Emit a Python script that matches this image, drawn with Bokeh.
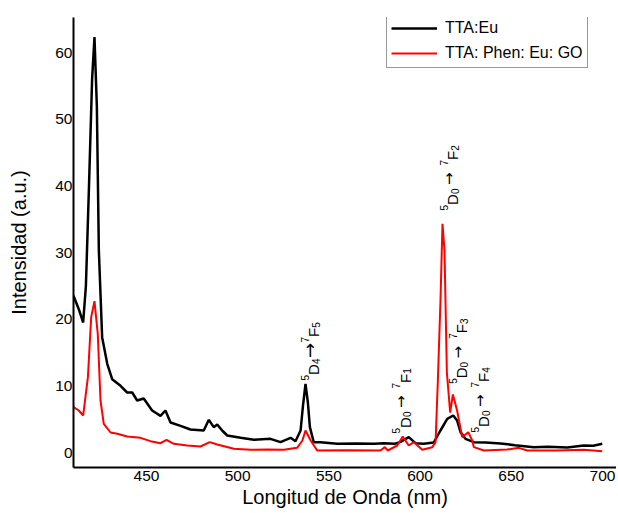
import numpy as np
from bokeh.plotting import figure
from bokeh.models import FixedTicker, Range1d, ColumnDataSource
from bokeh.core.properties import value
from bokeh.embed import file_html
from bokeh.resources import INLINE

# --- data ---
wl_black = [410, 412.9, 415.3, 416.8, 418.5, 420.2, 421.5, 422.8, 423.9, 425.7, 428.5, 431.2, 435.8,
            439.4, 442.2, 444.9, 448.5, 453.1, 457.7, 460.4, 463.2, 468.7, 474.1, 481.4, 484.2,
            486.9, 488.8, 491.5, 494.3, 501.6, 508.9, 518.0, 523.5, 529.0, 531.7, 534.5, 535.8,
            537.2, 538.5, 539.6, 541.7, 545.4, 554.6, 565.0, 575.0, 580.1, 586.0, 589.3, 593.8,
            597.5, 602.0, 607.5, 611.2, 614.9, 618.2, 620.3, 622.2, 624.9, 629.5, 636.0, 644.1,
            652.0, 662.4, 670.0, 680.7, 689.8, 695.0, 699.9]
int_black = [23.5, 21.5, 19.5, 25.0, 40.0, 56.0, 62.3, 52.0, 30.3, 17.3, 13.3, 11.0, 10.0,
             9.0, 9.0, 7.8, 8.1, 6.3, 5.5, 6.3, 4.5, 4.0, 3.45, 3.3, 4.9,
             3.8, 4.2, 3.3, 2.55, 2.2, 1.9, 2.05, 1.55, 2.2, 1.7, 3.3, 7.0,
             10.3, 7.5, 3.8, 1.55, 1.55, 1.3, 1.35, 1.3, 1.4, 1.3, 1.6, 2.3,
             1.4, 1.3, 1.5, 3.3, 5.05, 5.55, 4.8, 3.05, 2.05, 1.55, 1.5, 1.35,
             1.1, 0.8, 0.85, 0.75, 1.05, 1.0, 1.3]

wl_red = [410, 412.9, 415.3, 417.9, 419.7, 421.5, 423.3, 424.8, 426.6, 430.3, 434.0, 439.4,
          446.7, 452.2, 457.7, 461.0, 465.0, 472.3, 479.6, 484.7, 488.8, 497.9, 507.0, 516.2,
          525.3, 532.6, 535.5, 537.2, 540.0, 543.6, 560.0, 578.3, 580.7, 582.3, 587.5, 590.5,
          593.8, 596.6, 601.2, 606.7, 608.5, 609.7, 611.2, 612.3, 613.4, 614.7, 616.5, 618.0,
          620.3, 623.1, 626.4, 628.6, 629.5, 635.0, 647.8, 654.2, 658.7, 675.0, 689.8, 699.9]
int_red = [6.8, 6.3, 5.55, 11.3, 20.3, 22.7, 17.8, 7.8, 4.3, 3.0, 2.8, 2.4,
           2.2, 1.7, 1.4, 1.9, 1.3, 1.05, 0.9, 1.55, 1.2, 0.55, 0.4, 0.45,
           0.4, 0.7, 1.8, 3.3, 1.8, 0.3, 0.35, 0.3, 0.8, 0.3, 1.05, 2.4,
           1.05, 1.55, 0.4, 0.8, 1.55, 10.3, 22.8, 34.3, 30.3, 12.0, 6.0, 8.7,
           6.3, 2.3, 3.05, 1.8, 0.8, 0.3, 0.45, 0.7, 0.3, 0.3, 0.4, 0.2]

series_names = ["TTA:Eu", "TTA: Phen: Eu: GO"]
series_colors = ["black", "red"]

x_ticks = [450, 500, 550, 600, 650, 700]
y_ticks = [0, 10, 20, 30, 40, 50, 60]

# transition labels: 5D(J) -> 7F(J')
ann_from = ["4", "0", "0", "0", "0"]
ann_to = ["5", "1", "2", "3", "4"]
ann_x = [541.6, 592.0, 617.8, 622.9, 634.8]
ann_y = [10.8, 2.85, 36.3, 10.3, 3.0]
ann_compact = [True, False, False, False, False]

FONT = "Liberation Sans"
ARROW_FONT = "DejaVu Sans"

p = figure(frame_width=543, frame_height=450, output_backend="svg", toolbar_location=None,
           x_range=Range1d(410, 707.7), y_range=Range1d(-2.25, 65.25),
           min_border_left=73, min_border_right=0, min_border_top=17, min_border_bottom=45)
p.outline_line_color = None
p.xgrid.visible = False
p.ygrid.visible = False

p.line(wl_black, int_black, color=series_colors[0], line_width=2.5, legend_label=series_names[0])
p.line(wl_red, int_red, color=series_colors[1], line_width=2, legend_label=series_names[1])

# rotated transition labels, built piece by piece (superscripts / subscripts)
MAIN, SMALL = 15, 10
W = {"D": 0.722, "F": 0.611}
DIG = 0.556
txt = dict(x=[], y=[], t=[], fs=[], xo=[], yo=[])
arr = dict(x=[], y=[], t=[], fs=[], xo=[], yo=[])
for fr, to, ax_, ay_, compact in zip(ann_from, ann_to, ann_x, ann_y, ann_compact):
    g1, g2 = (0.5, 0.5) if compact else (3.5, 7.0)
    afs = 18 if compact else 15
    pieces = [("5", SMALL, 9), ("D", MAIN, 0), (fr, SMALL, -2), None,
              ("→", afs, 0), None, ("7", SMALL, 9), ("F", MAIN, 0), (to, SMALL, -2)]
    u = 0.0
    gaps = [g1, g2]
    for pc in pieces:
        if pc is None:
            u += gaps.pop(0)
            continue
        s, fs, v = pc
        d = arr if s == "→" else txt
        d["x"].append(ax_)
        d["y"].append(ay_)
        d["t"].append(s)
        d["fs"].append(f"{fs}px")
        d["xo"].append(-v + (-4 if s == "→" else 0))
        d["yo"].append(-u)
        if s == "→":
            u += 0.838 * fs
        elif s.isdigit():
            u += DIG * fs
        else:
            u += W[s] * fs

p.text(x="x", y="y", text="t", source=ColumnDataSource(txt), angle=np.pi / 2,
       text_align="left", text_baseline="alphabetic", text_font=value(FONT),
       text_font_size="fs", x_offset="xo", y_offset="yo", text_color="black")
p.text(x="x", y="y", text="t", source=ColumnDataSource(arr), angle=np.pi / 2,
       text_align="left", text_baseline="alphabetic", text_font=value(ARROW_FONT),
       text_font_size="fs", x_offset="xo", y_offset="yo", text_color="black")

for axis in (p.xaxis[0], p.yaxis[0]):
    axis.axis_line_width = 2
    axis.axis_line_color = "black"
    axis.major_tick_line_color = None
    axis.minor_tick_line_color = None
    axis.major_tick_out = 0
    axis.major_tick_in = 0
    axis.minor_tick_out = 0
    axis.minor_tick_in = 0
    axis.major_label_text_font = FONT
    axis.major_label_text_font_size = "15.5px"
    axis.major_label_text_color = "black"
    axis.axis_label_text_font = FONT
    axis.axis_label_text_font_size = "20px"
    axis.axis_label_text_font_style = "normal"
    axis.axis_label_text_color = "black"

p.xaxis.ticker = FixedTicker(ticks=x_ticks)
p.yaxis.ticker = FixedTicker(ticks=y_ticks)
p.xaxis.axis_label = "Longitud de Onda (nm)"
p.yaxis.axis_label = "Intensidad (a.u.)"
p.xaxis.major_label_standoff = 3
p.yaxis.major_label_standoff = 1
p.xaxis.axis_label_standoff = 2
p.yaxis.axis_label_standoff = 22

lg = p.legend[0]
lg.location = (313, 399)
lg.label_text_font = FONT
lg.label_text_font_size = "16px"
lg.label_text_color = "black"
lg.glyph_width = 46
lg.glyph_height = 20
lg.label_height = 20
lg.label_standoff = 8
lg.spacing = 5
lg.padding = 4
lg.margin = 0
lg.border_line_color = "#333333"
lg.border_line_width = 1
lg.background_fill_alpha = 1

open("out.html", "w").write(file_html(p, INLINE))
